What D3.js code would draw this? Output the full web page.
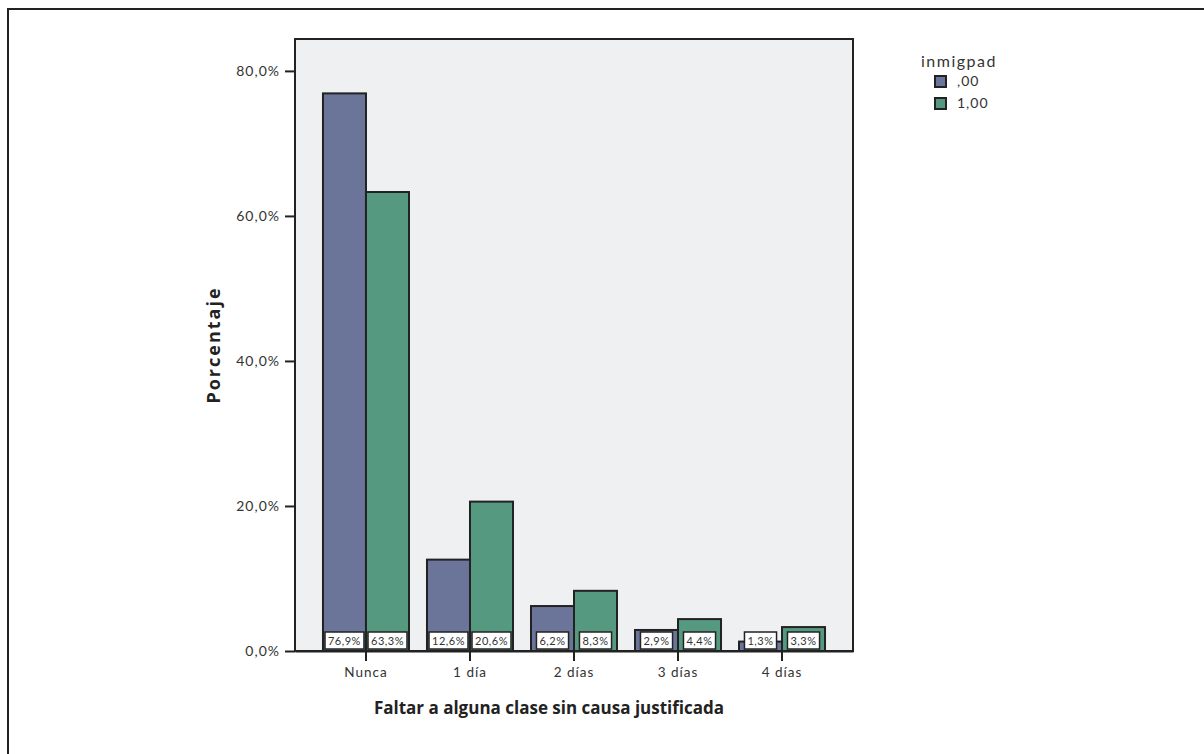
<!DOCTYPE html>
<html>
<head>
<meta charset="utf-8">
<script src="https://cdn.jsdelivr.net/npm/d3@7"></script>
<style>
html,body{margin:0;padding:0;background:#fff;}
svg{display:block;}
</style>
</head>
<body>
<svg id="chart" width="1204" height="754"></svg>
<script>
const categories = ["Nunca", "1 día", "2 días", "3 días", "4 días"];
const seriesNames = [",00", "1,00"];
const series0 = [76.9, 12.6, 6.2, 2.9, 1.3];
const series1 = [63.3, 20.6, 8.3, 4.4, 3.3];
const yTicks = [0, 20, 40, 60, 80];
const legendTitle = "inmigpad";
const xTitle = "Faltar a alguna clase sin causa justificada";
const yTitle = "Porcentaje";

const colors = ["#6b7499", "#559a80"];
const fmt = v => v.toFixed(1).replace(".", ",") + "%";

const svg = d3.select("#chart");
const font = "Lato, 'Open Sans', sans-serif";
const boldFont = "'Open Sans', Lato, sans-serif";

// outer frame
svg.append("rect").attr("x", 8).attr("y", 9).attr("width", 1210).attr("height", 760)
  .attr("fill", "#fff").attr("stroke", "#222").attr("stroke-width", 2);

const L = 295, R = 853, T = 39, B = 651;
const x0 = d3.scaleBand().domain(categories).range([L, R]).paddingInner(0.173).paddingOuter(0.269);
const x1 = d3.scaleBand().domain([0, 1]).range([0, x0.bandwidth()]);
const y = d3.scaleLinear().domain([0, 84.4]).range([B, T]);

svg.append("rect").attr("x", L).attr("y", T).attr("width", R - L).attr("height", B - T)
  .attr("fill", "#eff0f2").attr("stroke", "#222").attr("stroke-width", 2);

const data = categories.map((c, i) => ({c, vals: [series0[i], series1[i]]}));

const g = svg.append("g");
data.forEach(d => {
  d.vals.forEach((v, s) => {
    g.append("rect")
      .attr("x", x0(d.c) + x1(s))
      .attr("y", y(v))
      .attr("width", x1.bandwidth())
      .attr("height", y(0) - y(v))
      .attr("fill", colors[s])
      .attr("stroke", "#222").attr("stroke-width", 2);
  });
});

// labels
data.forEach(d => {
  d.vals.forEach((v, s) => {
    const cx = x0(d.c) + x1(s) + x1.bandwidth() / 2;
    const t = fmt(v);
    const lg = g.append("g");
    const txt = lg.append("text")
      .attr("x", cx).attr("y", B - 6)
      .attr("text-anchor", "middle")
      .attr("font-family", font).attr("font-size", 11)
      .attr("letter-spacing", 0.5)
      .attr("fill", "#333").text(t);
    const w = txt.node().getComputedTextLength() + 6;
    lg.insert("rect", "text")
      .attr("x", cx - w / 2).attr("y", B - 19)
      .attr("width", w).attr("height", 17)
      .attr("fill", "#fff").attr("stroke", "#222").attr("stroke-width", 1.5);
  });
});

// axes
const xAxis = d3.axisBottom(x0).tickSize(10).tickSizeOuter(0).tickPadding(6);
const gx = svg.append("g").attr("transform", `translate(0,${B})`).call(xAxis);
gx.select(".domain").attr("stroke", "#222").attr("stroke-width", 2);
gx.selectAll(".tick line").attr("stroke", "#222").attr("stroke-width", 2);
gx.selectAll(".tick text").attr("font-family", font).attr("font-size", 13.5)
  .attr("letter-spacing", 1).attr("fill", "#333");

const yAxis = d3.axisLeft(y).tickValues(yTicks).tickFormat(fmt).tickSize(10).tickSizeOuter(0).tickPadding(5);
const gy = svg.append("g").attr("transform", `translate(${L},0)`).call(yAxis);
gy.select(".domain").remove();
gy.selectAll(".tick line").attr("stroke", "#222").attr("stroke-width", 2);
gy.selectAll(".tick text").attr("font-family", font).attr("font-size", 14)
  .attr("letter-spacing", 1).attr("fill", "#333");

// titles
svg.append("text").attr("x", 549).attr("y", 714)
  .attr("text-anchor", "middle").attr("font-family", boldFont).attr("font-weight", "bold")
  .attr("font-size", 17).attr("fill", "#222").text(xTitle);
svg.append("text").attr("transform", `translate(220,345) rotate(-90)`)
  .attr("text-anchor", "middle").attr("font-family", boldFont).attr("font-weight", "bold")
  .attr("font-size", 18).attr("letter-spacing", 2).attr("fill", "#222").text(yTitle);

// legend
const lgd = svg.append("g");
lgd.append("text").attr("x", 921).attr("y", 67).attr("font-family", font)
  .attr("font-size", 16).attr("letter-spacing", 1.5).attr("fill", "#333").text(legendTitle);
seriesNames.forEach((n, i) => {
  lgd.append("rect").attr("x", 935).attr("y", 76 + i * 22).attr("width", 11).attr("height", 11)
    .attr("fill", colors[i]).attr("stroke", "#222").attr("stroke-width", 2);
  lgd.append("text").attr("x", 957).attr("y", 86 + i * 22).attr("font-family", font)
    .attr("font-size", 14).attr("letter-spacing", 1).attr("fill", "#333").text(n);
});
</script>
</body>
</html>
